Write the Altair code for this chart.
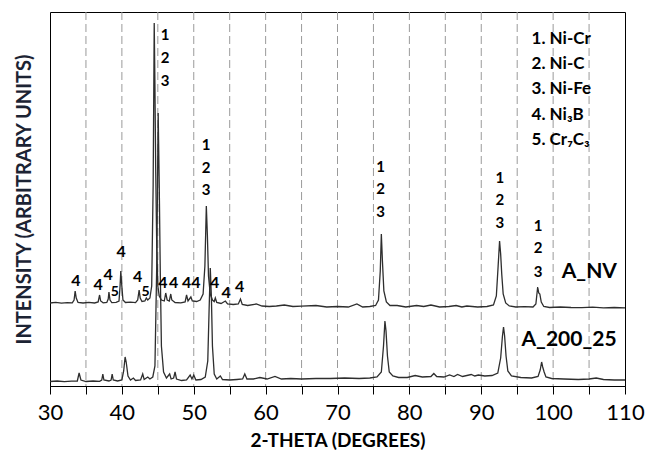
import altair as alt
import pandas as pd

# ---- diffraction traces: (2-theta, intensity in arbitrary units) ----
NV_PTS = [
    (30.0, 83.0), (30.8, 83.6), (31.6, 82.8), (32.4, 83.4), (33.1, 83.2), (33.35, 86), (33.5, 95),
    (33.65, 88), (33.9, 83.5), (34.6, 83.0), (35.4, 83.6), (36.2, 83.0), (36.7, 84), (36.9, 91),
    (37.05, 85), (37.4, 83.2), (37.9, 83.5), (38.1, 87), (38.2, 94), (38.35, 86), (38.6, 83.4),
    (39.2, 83.6), (39.6, 85), (39.75, 100), (39.85, 115), (39.97, 102), (40.15, 86), (40.5, 83.5),
    (41.2, 83.8), (41.9, 83.4), (42.2, 86), (42.4, 96), (42.55, 88), (42.8, 84.5), (43.2, 85),
    (43.4, 88), (43.6, 86), (43.9, 88), (44.15, 100), (44.35, 200), (44.5, 363), (44.6, 300),
    (44.7, 220), (44.85, 140), (45.0, 100), (45.2, 90), (45.5, 86), (45.9, 85), (46.1, 93),
    (46.3, 86), (46.6, 85), (46.8, 92), (46.95, 86), (47.4, 83.5), (48.2, 83.2), (48.8, 84),
    (49.0, 91), (49.2, 85), (49.6, 89), (49.8, 85), (50.4, 84.5), (50.9, 86), (51.3, 92),
    (51.55, 120), (51.75, 180), (51.9, 150), (52.05, 110), (52.3, 92), (52.6, 86), (52.85, 84.5),
    (53.0, 88), (53.2, 83.5), (53.8, 82.5), (54.4, 85), (54.7, 82), (55.5, 81.5), (56.2, 82),
    (56.5, 87), (56.75, 81.5), (57.5, 80.5), (58.7, 82), (59.5, 80), (60.5, 79.5), (61.5, 80),
    (62.6, 81), (63.8, 79.5), (65.0, 79.8), (67.0, 80.5), (68.5, 79), (70.0, 79.5), (71.5, 79),
    (72.7, 82), (73.5, 79), (74.5, 79.5), (75.3, 80.5), (75.7, 86), (75.95, 115), (76.1, 152),
    (76.25, 125), (76.45, 95), (76.8, 84), (77.3, 80.5), (78.3, 80.5), (79.5, 79), (81.0, 80.5),
    (82.0, 79.5), (83.0, 81), (84.2, 79), (85.5, 79.5), (86.5, 80.5), (87.3, 79), (88.0, 80),
    (89.5, 79), (90.8, 79.5), (91.7, 81), (92.1, 90), (92.35, 120), (92.55, 145), (92.7, 132),
    (92.85, 112), (93.05, 92), (93.4, 83), (93.9, 80), (94.8, 79), (96.0, 79.3), (97.2, 79),
    (97.6, 82), (97.85, 99), (98.0, 93), (98.15, 92), (98.35, 84), (98.7, 79.5), (99.5, 78.5),
    (101.0, 79), (102.5, 78.5), (104.0, 78.3), (105.5, 78.8), (107.0, 78.2), (108.5, 78.5),
    (110.0, 78.2),
]

HP_PTS = [
    (30.0, 4.5), (31.0, 5), (32.0, 4.3), (33.0, 4.8), (33.8, 5), (34.05, 13), (34.3, 6), (35.0, 4.5),
    (36.0, 5), (36.9, 4.6), (37.2, 6), (37.35, 12), (37.5, 6), (38.2, 5), (38.5, 6), (38.65, 12),
    (38.8, 6), (39.4, 5), (40.0, 6), (40.25, 15), (40.45, 29), (40.6, 24), (40.85, 10), (41.2, 6),
    (41.6, 8), (41.9, 5.5), (42.6, 6), (42.9, 12), (43.1, 6.5), (43.6, 9), (43.9, 7), (44.3, 9),
    (44.6, 20), (44.85, 120), (45.05, 273), (45.2, 200), (45.35, 110), (45.5, 40), (45.8, 14),
    (46.2, 8), (46.65, 12), (46.85, 7), (47.2, 8), (47.4, 14), (47.6, 7), (48.3, 5.5), (49.0, 6),
    (49.5, 11), (49.75, 7), (50.0, 11), (50.3, 6), (51.0, 6.5), (51.6, 9), (51.95, 25), (52.15, 80),
    (52.3, 118), (52.45, 90), (52.6, 40), (52.85, 12), (53.2, 7), (53.7, 10), (54.0, 6.5), (55.0, 6),
    (56.0, 6.5), (56.8, 7), (57.1, 12), (57.4, 7), (58.3, 7), (59.2, 8.5), (60.2, 7), (61.3, 9.5),
    (62.2, 7), (63.5, 7.5), (65.0, 7), (67.0, 7.5), (69.0, 7.5), (71.0, 8), (73.0, 7.5), (74.5, 8),
    (75.5, 9), (76.1, 14), (76.4, 40), (76.6, 65), (76.75, 55), (76.95, 30), (77.2, 14), (77.7, 10),
    (78.5, 8.5), (79.7, 8.5), (80.8, 10.5), (81.8, 9), (83.0, 9.5), (83.4, 12.5), (83.8, 9.5),
    (84.8, 9), (85.6, 11), (86.2, 9.5), (86.7, 11.5), (87.4, 9.5), (88.6, 11.5), (89.1, 10),
    (89.6, 11), (90.5, 10), (91.5, 10.5), (92.3, 13), (92.7, 28), (92.95, 50), (93.1, 59),
    (93.25, 50), (93.45, 30), (93.7, 15), (94.2, 10), (95.5, 8.5), (97.0, 8), (97.9, 9.5),
    (98.2, 16), (98.4, 24), (98.55, 19), (98.75, 14), (99.0, 9), (99.8, 7.5), (101.5, 7),
    (103.5, 6.5), (105.0, 7), (106.0, 8), (107.0, 6.5), (108.5, 6), (110.0, 6),
]

# ---- axis / gridline values ----
TICK_VALUES = [30, 35, 40, 45, 50, 55, 60, 65, 70, 75, 80, 85, 90, 95, 100, 105, 110]
GRID_VALUES = [35, 40, 45, 50, 55, 60, 65, 70, 75, 80, 85, 90, 95, 100, 105]

# ---- peak annotations ----
PHASE_TEXT = ["1", "2", "3"] * 5
PHASE_X = [46.0] * 3 + [51.7] * 3 + [76.0] * 3 + [92.6] * 3 + [97.9] * 3
PHASE_Y = [351, 328, 305, 241, 218, 196, 219, 197, 174, 208, 186, 163, 160, 138, 114]

NI3B_X = [33.6, 36.7, 38.1, 39.9, 42.2, 45.7, 47.2, 49.0, 50.3, 52.9, 54.5, 56.4]
NI3B_Y = [105, 101, 111, 134, 109, 103, 103, 103, 103, 103, 93, 99]
CR7C3_X = [39.0, 43.3]
CR7C3_Y = [94, 94]

KEY_TEXT = ["1. Ni-Cr", "2. Ni-C", "3. Ni-Fe", "4. Ni\u2083B", "5. Cr\u2087C\u2083"]
KEY_X = [97.0] * 5
KEY_Y = [347, 322, 297, 271, 246]

SAMPLE_TEXT = ["A_NV", "A_200_25"]
SAMPLE_X = [101.2, 95.6]
SAMPLE_Y = [114, 46]

FONT = "Lato"

nv = pd.DataFrame(NV_PTS, columns=["x", "y"])
hp = pd.DataFrame(HP_PTS, columns=["x", "y"])
grid = pd.DataFrame({"x": GRID_VALUES})
phase = pd.DataFrame({"x": PHASE_X, "y": PHASE_Y, "t": PHASE_TEXT})
ni3b = pd.DataFrame({"x": NI3B_X, "y": NI3B_Y, "t": ["4"] * len(NI3B_X)})
cr7c3 = pd.DataFrame({"x": CR7C3_X, "y": CR7C3_Y, "t": ["5"] * len(CR7C3_X)})
key = pd.DataFrame({"x": KEY_X, "y": KEY_Y, "t": KEY_TEXT})
samples = pd.DataFrame({"x": SAMPLE_X, "y": SAMPLE_Y, "t": SAMPLE_TEXT})

xscale = alt.Scale(domain=[30, 110], nice=False, zero=False)
yscale = alt.Scale(domain=[0, 374], nice=False)

xaxis = alt.Axis(
    values=TICK_VALUES,
    labelExpr="datum.value % 10 == 0 ? datum.label : ''",
    labelOverlap=False,
    labelFlush=False,
    grid=False,
    tickSize=8,
    tickColor="black",
    domainColor="black",
    labelFont=FONT,
    labelFontSize=22,
    labelColor="black",
    labelPadding=8,
    title="2-THETA (DEGREES)",
    titleFont=FONT,
    titleFontSize=19,
    titleFontWeight="bold",
    titleColor="black",
    titlePadding=8,
)
yaxis = alt.Axis(
    labels=False,
    ticks=False,
    domain=False,
    grid=False,
    title="INTENSITY (ARBITRARY UNITS)",
    titleFont=FONT,
    titleFontSize=20,
    titleFontWeight="bold",
    titleColor="#1c2333",
    titlePadding=16,
)

X = alt.X("x:Q", scale=xscale, axis=xaxis)
Y = alt.Y("y:Q", scale=yscale, axis=yaxis)

grid_layer = alt.Chart(grid).mark_rule(
    color="#9a9a9a", strokeWidth=1, strokeDash=[8, 4]
).encode(x=X)

nv_layer = alt.Chart(nv).mark_line(color="#2e2e2e", strokeWidth=1.3).encode(x=X, y=Y)
hp_layer = alt.Chart(hp).mark_line(color="#2e2e2e", strokeWidth=1.3).encode(x=X, y=Y)

def text_layer(df, size, align="center"):
    return alt.Chart(df).mark_text(
        font=FONT, fontWeight="bold", fontSize=size, color="black",
        align=align, baseline="middle",
    ).encode(x=X, y=Y, text="t:N")

chart = alt.layer(
    grid_layer,
    nv_layer,
    hp_layer,
    text_layer(phase, 15),
    text_layer(ni3b, 16),
    text_layer(cr7c3, 14),
    text_layer(key, 17, "left"),
    text_layer(samples, 21, "left"),
).properties(
    width=575,
    height=374,
    padding={"left": 42, "top": 4, "right": 24, "bottom": 65},
    autosize=alt.AutoSizeParams(type="none"),
).configure_view(stroke="black", strokeWidth=1)

chart.save("out.html", embed_options={"renderer": "svg", "actions": False})
